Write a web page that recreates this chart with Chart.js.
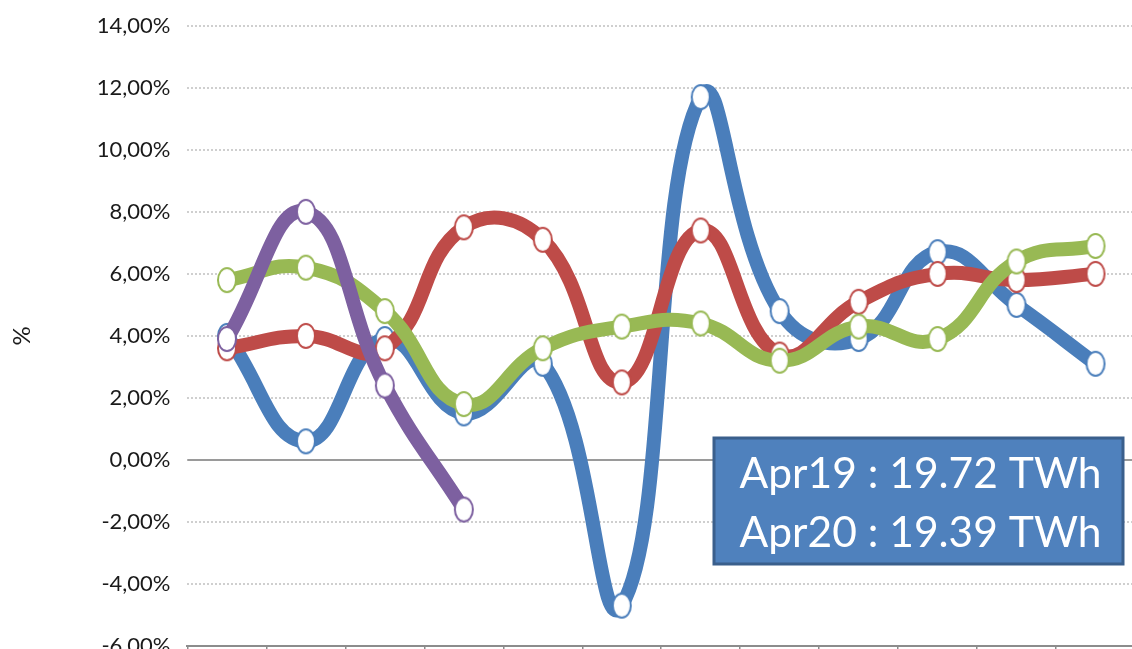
<!DOCTYPE html>
<html>
<head>
<meta charset="utf-8">
<script src="https://cdn.jsdelivr.net/npm/chart.js@4.4.0/dist/chart.umd.min.js"></script>
<style>
  html, body { margin: 0; padding: 0; background: #fff; overflow: hidden; }
  #wrap { position: relative; width: 1160px; height: 690px; }
</style>
</head>
<body>
<div id="wrap"><canvas id="chart" width="1160" height="690"></canvas></div>
<script>
// categories (months) and values, in %
var months = ['Jan', 'Feb', 'Mar', 'Apr', 'May', 'Jun', 'Jul', 'Aug', 'Sep', 'Oct', 'Nov', 'Dec'];
var yMin = -6, yMax = 14, yStep = 2;

var blueValues   = [4.0, 0.6, 3.9, 1.5, 3.1, -4.7, 11.7, 4.8, 3.9, 6.7, 5.0, 3.1];
var redValues    = [3.6, 4.0, 3.6, 7.5, 7.1, 2.5, 7.4, 3.4, 5.1, 6.0, 5.8, 6.0];
var greenValues  = [5.8, 6.2, 4.8, 1.8, 3.6, 4.3, 4.4, 3.2, 4.3, 3.9, 6.4, 6.9];
var purpleValues = [3.9, 8.0, 2.4, -1.6];

var boxLines = ['Apr19 : 19.72 TWh', 'Apr20 : 19.39 TWh'];

var FONT = 'Lato, "Open Sans", sans-serif';

// white elliptic marker with coloured rim
function makeMarker(color) {
    var c = document.createElement('canvas');
    c.width = 22; c.height = 28;
    var g = c.getContext('2d');
    g.beginPath();
    g.ellipse(11, 14, 9, 12, 0, 0, Math.PI * 2);
    g.fillStyle = '#fff';
    g.fill();
    g.lineWidth = 2;
    g.strokeStyle = color;
    g.stroke();
    return c;
}

function series(values, color, order) {
    return {
        data: values,
        borderColor: color,
        backgroundColor: color,
        borderWidth: 14,
        tension: 0.45,
        pointStyle: makeMarker(color),
        pointRadius: 11,
        order: order,
        borderCapStyle: 'round',
        borderJoinStyle: 'round'
    };
}

var zeroLine = {
    id: 'zeroLine',
    beforeDatasetsDraw: function (chart) {
        var ctx = chart.ctx, area = chart.chartArea;
        var y = chart.scales.y.getPixelForValue(0);
        ctx.save();
        ctx.strokeStyle = '#9a9a9a';
        ctx.lineWidth = 2;
        ctx.beginPath();
        ctx.moveTo(area.left, y);
        ctx.lineTo(area.right, y);
        ctx.stroke();
        ctx.restore();
    }
};

var infoBox = {
    id: 'infoBox',
    afterDraw: function (chart) {
        var ctx = chart.ctx;
        var x = 714, y = 438, w = 409, h = 126;
        ctx.save();
        ctx.fillStyle = '#4f81bd';
        ctx.strokeStyle = '#3a5f8c';
        ctx.lineWidth = 3;
        ctx.beginPath();
        ctx.rect(x, y, w, h);
        ctx.fill();
        ctx.stroke();
        ctx.fillStyle = '#fff';
        ctx.font = '43px ' + FONT;
        ctx.textAlign = 'center';
        ctx.textBaseline = 'middle';
        ctx.fillText(boxLines[0], x + w / 2 + 2, y + 36, 362);
        ctx.fillText(boxLines[1], x + w / 2 + 2, y + 95, 362);
        ctx.restore();
    }
};

new Chart(document.getElementById('chart'), {
    type: 'line',
    data: {
        labels: months,
        datasets: [
            series(blueValues, '#4a7ebb', 4),
            series(redValues, '#be4b48', 3),
            series(greenValues, '#98b954', 2),
            series(purpleValues, '#7d60a0', 1)
        ]
    },
    options: {
        responsive: false,
        animation: false,
        devicePixelRatio: 1,
        layout: { padding: { top: 25, left: 8, right: 0, bottom: 0 } },
        plugins: { legend: { display: false }, tooltip: { enabled: false } },
        scales: {
            x: {
                offset: true,
                grid: { offset: true, drawOnChartArea: false, drawTicks: true, tickLength: 8, color: '#8c8c8c', lineWidth: 1.5 },
                border: { display: true, color: '#8c8c8c', width: 2 },
                ticks: { color: '#1a1a1a', font: { family: FONT, size: 20 }, padding: 6 }
            },
            y: {
                min: yMin,
                max: yMax,
                ticks: {
                    stepSize: yStep,
                    color: '#1a1a1a',
                    padding: 17,
                    font: { family: FONT, size: 22, lineHeight: 0.8 },
                    callback: function (v) { return v.toFixed(2).replace('.', ',') + '%'; }
                },
                grid: { color: '#cfcfcf', lineWidth: 2, drawTicks: false },
                border: { display: false, dash: [2, 2] },
                title: { display: true, text: '%', color: '#1a1a1a', font: { family: FONT, size: 24 }, padding: { top: 0, bottom: 43 } }
            }
        }
    },
    plugins: [zeroLine, infoBox]
});
</script>
</body>
</html>
